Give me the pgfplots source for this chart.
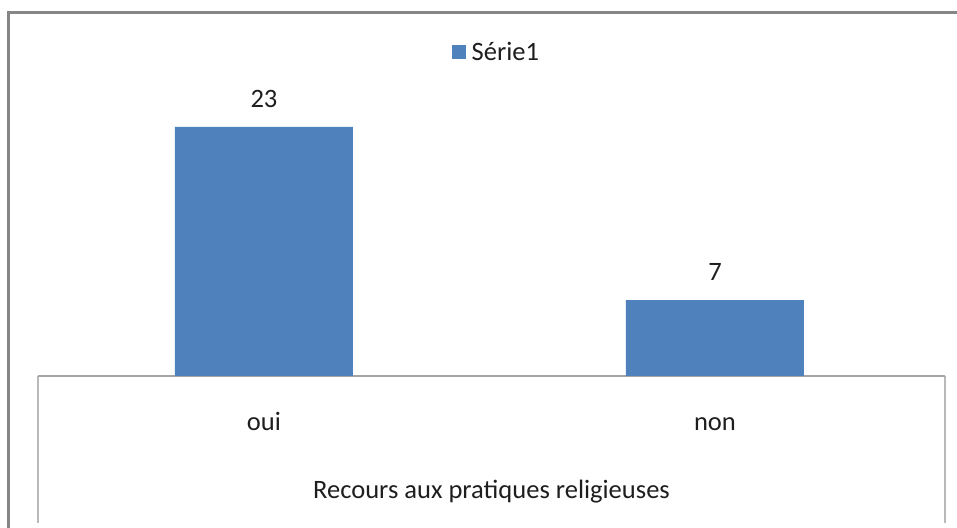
\documentclass[border=0pt]{standalone}
\usepackage{pgfplots}
\pgfplotsset{compat=1.18}
\usepackage{fontspec}
\setmainfont{Carlito}
\definecolor{barblue}{RGB}{79,129,189}
\definecolor{framegray}{RGB}{134,134,134}
\definecolor{axisgray}{RGB}{165,165,165}
\definecolor{boxgray}{RGB}{185,185,185}
\definecolor{txt}{RGB}{30,30,30}
\begin{document}
\begin{tikzpicture}[x=0.75pt,y=0.75pt,font=\fontsize{19.9}{24}\selectfont]
\useasboundingbox (0,0) rectangle (957,528);
% outer chart frame (cropped)
\draw[framegray, line width=1.9pt] (8.5,-5) -- (8.5,515.5) -- (965,515.5);
% category box sides
\draw[boxgray, line width=1.1pt] (38,152) -- (38,5);
\draw[boxgray, line width=1.1pt] (945,152) -- (945,5);
\begin{axis}[
  at={(28.5pt,114pt)}, anchor=south west,
  scale only axis,
  width=680.25pt, height=203.1pt,
  ybar, bar width=0.3947,
  xmin=-0.501, xmax=1.510, ymin=0, ymax=25,
  axis x line=bottom, axis y line=none,
  x axis line style={-, draw=axisgray, line width=1.1pt},
  xtick={0,1}, xticklabels={oui,non},
  xtick style={draw=none},
  ytick=\empty,
  xticklabel style={anchor=base, yshift=-38.5pt, text=txt},
  xlabel={Recours aux pratiques religieuses},
  xlabel style={at={(axis description cs:0.5,0)}, anchor=base, yshift=-91.7pt, text=txt},
  /pgf/number format/assume math mode=true,
  nodes near coords,
  every node near coord/.append style={anchor=base, yshift=14.5pt, text=txt},
  legend style={at={(axis description cs:0.4565,1.1965)}, anchor=west, draw=none, fill=none, inner sep=0pt, text=txt},
  legend image code/.code={\fill[barblue] (0pt,-5.25pt) rectangle (10.5pt,5.25pt);},
  legend cell align=left,
  clip=false,
]
\addplot[fill=barblue, draw=none] coordinates {(0,23) (1,7)};
\addlegendentry{\hspace{2pt}Série1}
\end{axis}
\end{tikzpicture}
\end{document}
